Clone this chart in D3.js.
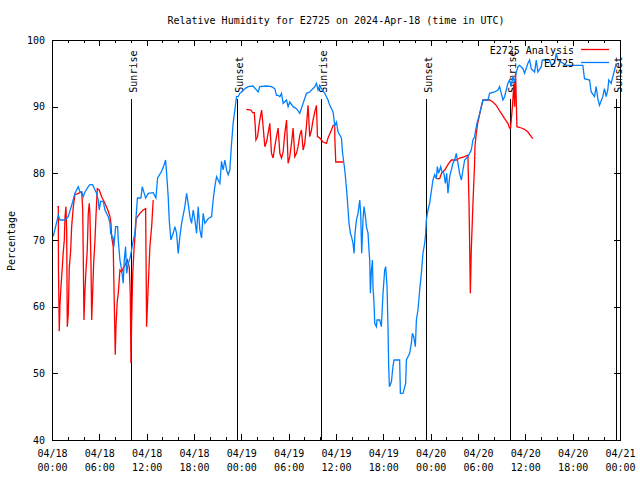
<!DOCTYPE html>
<html><head><meta charset="utf-8">
<script src="https://cdn.jsdelivr.net/npm/d3@7"></script>
<style>
body{margin:0;background:#fff}
svg text{font-family:"DejaVu Sans Mono",monospace;font-size:10px;fill:#000}
</style>
</head><body>
<svg id="chart" width="640" height="480"></svg>
<script>
// ---------- DATA ----------
const chartTitle = "Relative Humidity for E2725 on 2024-Apr-18 (time in UTC)";
const yAxisTitle = "Percentage";
const seriesNames = ["E2725 Analysis", "E2725"];
const seriesColors = ["#ff0000", "#0080ff"];
const yTicks = [40, 50, 60, 70, 80, 90, 100];
const xMajorHours = [0, 6, 12, 18, 24, 30, 36, 42, 48, 54, 60, 66, 72];
const xMinorHours = d3.range(0, 73, 2);
const sunHours = [10.05, 23.47, 34.07, 47.45, 58.09, 71.51];
const sunLabels = ["Sunrise", "Sunset", "Sunrise", "Sunset", "Sunrise", "Sunset"];

// [hours since 2024-04-18 00:00 UTC, RH %]; null value = gap
const analysisRH = [
[0.67,75.0],[0.80,75.0],[0.82,65.8],[0.92,56.3],[1.01,60.3],[1.14,63.0],[1.30,65.8],[1.43,68.3],[1.56,70.0],[1.65,73.5],
[1.77,75.0],[1.86,71.5],[1.94,57.0],[2.06,58.8],[2.19,65.8],[2.37,68.5],[2.49,72.0],[2.70,75.0],[2.91,76.8],[3.33,77.0],
[3.76,77.2],[3.89,74.7],[3.96,68.0],[4.05,58.0],[4.18,62.5],[4.31,65.5],[4.47,68.5],[4.60,74.0],[4.72,75.5],[4.81,73.8],
[4.94,66.5],[5.03,58.0],[5.15,62.0],[5.28,66.5],[5.45,70.0],[5.57,73.5],[5.74,77.7],[5.99,77.5],[6.29,76.5],[6.71,75.5],
[7.13,74.3],[7.35,73.5],[7.47,72.5],[7.56,70.5],[7.76,69.0],[7.89,60.8],[8.02,52.8],[8.11,57.0],[8.27,60.8],[8.40,62.0],
[8.61,65.5],[8.83,65.2],[9.03,65.8],[9.25,66.2],[9.54,67.0],[9.79,66.0],[9.92,62.0],[10.01,51.5],[10.09,57.5],[10.22,64.5],
[10.39,68.5],[10.58,71.5],[10.67,73.2],[11.14,74.0],[11.56,74.5],[11.87,74.7],[11.99,57.0],[12.16,62.0],[12.41,69.0],[12.63,72.0],
[12.83,76.0],[12.9,null],
[24.64,89.6],[25.21,89.5],[25.42,89.1],[25.64,89.1],[25.77,87.0],[25.85,85.0],[26.06,85.5],[26.27,87.5],[26.57,89.5],[26.69,88.0],
[26.98,84.0],[27.19,84.7],[27.39,86.0],[27.61,87.5],[27.82,83.0],[28.03,82.3],[28.24,84.0],[28.46,85.5],[28.66,86.8],[28.88,83.0],
[29.09,82.3],[29.30,83.2],[29.51,86.0],[29.73,88.0],[29.93,81.5],[30.14,82.5],[30.36,84.5],[30.56,86.8],[30.78,82.5],[30.99,83.0],
[31.19,84.0],[31.41,85.7],[31.62,86.5],[31.83,83.5],[32.04,84.5],[32.26,87.2],[32.46,90.2],[32.67,85.5],[32.89,86.5],[33.09,88.0],
[33.31,89.2],[33.52,90.2],[33.65,85.5],[33.94,85.3],[34.36,84.7],[34.79,84.5],[34.99,85.3],[35.42,86.5],[35.63,87.2],[35.84,87.2],
[35.85,85.3],[35.97,81.7],[36.89,81.7],[37.0,null],
[48.72,79.2],[49.14,79.2],[49.37,80.0],[49.78,80.5],[50.19,81.3],[50.62,82.0],[51.25,82.0],[51.67,82.3],[52.31,82.5],[52.72,82.7],
[52.87,75.0],[53.03,62.0],[53.15,68.5],[53.36,75.5],[53.57,81.5],[53.61,84.0],[53.78,86.0],[53.99,87.7],[54.20,88.8],[54.42,90.0],
[54.63,91.0],[55.47,91.0],[55.89,90.7],[56.31,90.2],[56.52,89.8],[56.95,89.0],[57.37,88.2],[57.79,87.5],[58.00,86.8],[58.13,86.8],
[58.29,89.0],[58.42,91.0],[58.55,93.5],[58.64,90.0],[58.76,95.0],[58.86,90.5],[58.93,87.0],[59.49,86.8],[59.90,86.6],[60.33,86.2],
[60.75,85.5],[60.96,85.2]
];

const stationRH = [
[0.13,70.5],[0.25,71.0],[0.80,73.7],[1.01,73.0],[1.65,73.0],[2.06,73.5],[2.49,75.2],[2.91,77.0],[3.33,78.0],[3.55,77.2],
[3.76,77.2],[3.96,76.5],[4.18,77.2],[4.60,78.0],[4.81,78.3],[5.15,78.3],[5.45,77.5],[5.66,77.0],[5.86,76.0],[5.99,74.5],
[6.17,75.8],[6.50,75.8],[6.71,74.5],[7.13,73.5],[7.35,72.5],[7.43,71.0],[7.76,70.3],[7.85,69.0],[8.07,72.0],[8.32,72.0],
[8.40,70.0],[8.61,67.0],[8.83,65.5],[9.03,63.5],[9.16,67.0],[9.33,69.0],[9.46,65.0],[9.66,66.5],[9.88,67.2],[10.09,68.5],
[10.22,69.5],[10.51,71.0],[10.83,76.3],[11.27,76.3],[11.44,78.0],[11.69,77.0],[11.87,76.3],[12.20,77.0],[12.83,77.1],[13.17,76.3],
[13.39,79.3],[13.89,80.3],[14.22,81.3],[14.40,82.0],[14.53,80.0],[14.73,76.5],[14.86,73.0],[15.07,70.0],[15.36,71.0],[15.58,72.0],
[15.79,71.0],[16.00,68.0],[16.21,70.5],[16.43,72.5],[16.84,75.0],[17.06,77.0],[17.26,75.5],[17.48,73.5],[17.69,72.5],[17.90,74.5],
[18.11,73.0],[18.33,71.0],[18.53,75.0],[18.74,71.5],[18.96,70.3],[19.16,74.0],[19.38,72.5],[19.79,73.2],[20.23,73.5],[20.43,76.0],
[20.64,78.0],[20.86,79.5],[21.06,79.0],[21.28,78.5],[21.49,81.8],[21.69,80.5],[21.91,82.0],[22.13,80.5],[22.33,79.8],[22.54,80.5],
[22.76,84.5],[22.96,87.5],[23.18,89.5],[23.39,91.5],[23.60,91.5],[23.81,92.0],[24.02,92.2],[24.44,92.7],[24.86,93.0],[25.49,93.1],
[26.13,92.2],[26.34,93.0],[27.19,93.1],[27.82,93.0],[28.24,92.7],[28.46,91.7],[28.66,91.7],[28.88,91.5],[29.09,92.0],[29.30,90.5],
[29.73,91.0],[29.93,90.0],[30.14,90.7],[30.56,90.0],[30.99,89.7],[31.41,89.0],[31.83,90.5],[32.26,92.0],[32.67,92.2],[33.31,93.0],
[33.52,93.5],[33.73,92.5],[33.94,93.2],[34.16,92.7],[34.57,92.0],[34.99,91.0],[35.21,90.2],[35.63,89.2],[35.84,87.2],[36.06,87.7],
[36.26,86.2],[36.69,85.3],[36.82,83.2],[36.98,81.7],[37.11,80.5],[37.23,79.0],[37.40,76.7],[37.53,74.5],[37.65,72.5],[37.83,71.0],
[37.96,70.5],[38.16,69.5],[38.29,68.0],[38.41,71.0],[38.59,73.0],[38.79,74.0],[39.01,76.0],[39.13,74.0],[39.26,68.0],[39.42,73.0],
[39.55,75.0],[39.73,73.5],[39.86,72.0],[40.06,71.0],[40.18,68.5],[40.27,67.0],[40.36,62.0],[40.49,65.5],[40.62,67.0],[40.69,63.0],
[40.82,60.5],[40.91,57.5],[41.12,57.0],[41.20,58.0],[41.54,58.0],[41.75,57.0],[41.96,62.0],[42.17,65.5],[42.30,66.0],[42.47,63.0],
[42.59,57.0],[42.68,51.0],[42.77,48.0],[43.02,48.7],[43.22,51.0],[43.35,52.0],[44.07,52.0],[44.16,47.0],[44.49,47.0],[44.83,48.5],
[44.92,52.0],[45.12,52.5],[45.34,53.0],[45.55,54.5],[45.68,56.0],[45.85,55.5],[46.06,54.0],[46.19,58.0],[46.39,59.5],[46.61,62.5],
[46.82,65.0],[47.02,68.0],[47.24,69.5],[47.37,71.0],[47.45,73.0],[47.66,74.5],[47.87,75.5],[48.29,79.0],[48.51,79.8],[48.72,79.2],
[48.85,81.0],[49.01,80.0],[49.27,81.0],[49.43,80.2],[49.68,80.0],[49.86,78.5],[50.03,80.0],[50.19,77.0],[50.41,79.5],[50.82,81.5],
[51.04,82.0],[51.25,83.0],[51.46,81.5],[51.67,80.0],[51.89,79.0],[52.09,80.5],[52.31,82.0],[52.72,82.5],[53.15,83.5],[53.36,85.0],
[53.57,85.5],[53.70,86.5],[53.91,87.7],[54.12,88.5],[54.42,90.0],[54.63,91.0],[55.26,91.0],[55.47,92.0],[56.10,92.2],[56.52,92.5],
[56.74,93.0],[56.95,92.0],[57.16,91.0],[57.37,91.5],[57.79,93.5],[58.00,94.0],[58.22,93.0],[58.42,94.5],[58.64,93.7],[58.86,95.2],
[59.07,96.0],[59.27,96.2],[59.70,95.7],[59.90,95.0],[60.33,96.5],[60.54,97.0],[60.75,95.7],[61.17,95.2],[61.39,97.0],[61.59,95.2],
[62.02,96.0],[62.15,97.0],[63.07,97.0],[63.29,96.2],[63.71,96.5],[63.92,98.0],[64.12,97.0],[64.55,96.7],[65.18,96.2],[67.29,96.2],
[67.50,94.2],[68.14,94.0],[68.35,92.2],[68.77,91.5],[68.98,93.0],[69.19,91.2],[69.40,90.2],[69.82,91.5],[70.03,92.7],[70.25,91.5],
[70.45,92.5],[70.58,94.0],[70.88,93.5],[71.09,94.5],[71.31,95.5],[71.52,96.5]
];

// ---------- DRAW ----------
const L = 52, R = 620, T = 40, B = 440;
const t0 = Date.UTC(2024, 3, 18);
const toDate = h => new Date(t0 + h * 3600e3);
const x = d3.scaleUtc().domain([toDate(0), toDate(72)]).range([L, R]);
const y = d3.scaleLinear().domain([40, 100]).range([B, T]);
const svg = d3.select("#chart");

// title
svg.append("text").attr("x", (L + R) / 2).attr("y", 24)
  .attr("text-anchor", "middle").text(chartTitle);
// y axis title
svg.append("text").attr("transform", "translate(15,241) rotate(-90)")
  .attr("text-anchor", "middle").text(yAxisTitle);

const crisp = g => g.attr("shape-rendering", "crispEdges").call(s => s.select(".domain").remove());

// left axis
svg.append("g").attr("transform", `translate(${L},0)`)
  .call(d3.axisLeft(y).tickValues(yTicks).tickSize(-6).tickPadding(7).tickFormat(d3.format("d")))
  .call(crisp);
// right mirror
svg.append("g").attr("transform", `translate(${R},0)`)
  .call(d3.axisRight(y).tickValues(yTicks).tickSize(-6).tickFormat(""))
  .call(crisp);
// bottom minor + major
svg.append("g").attr("transform", `translate(0,${B})`)
  .call(d3.axisBottom(x).tickValues(xMinorHours.map(toDate)).tickSize(-3).tickFormat(""))
  .call(crisp);
const fmtD = d3.utcFormat("%m/%d"), fmtT = d3.utcFormat("%H:%M");
svg.append("g").attr("transform", `translate(0,${B})`)
  .call(d3.axisBottom(x).tickValues(xMajorHours.map(toDate)).tickSize(-6).tickFormat(fmtD))
  .call(crisp)
  .call(g => g.selectAll(".tick text").each(function(d) {
    const t = d3.select(this).text(null).attr("y", null).attr("dy", null);
    t.append("tspan").attr("x", 0).attr("y", 17).text(fmtD(d));
    t.append("tspan").attr("x", 0).attr("y", 31).text(fmtT(d));
  }));
// top mirror
svg.append("g").attr("transform", `translate(0,${T})`)
  .call(d3.axisTop(x).tickValues(xMinorHours.map(toDate)).tickSize(-3).tickFormat(""))
  .call(crisp);
svg.append("g").attr("transform", `translate(0,${T})`)
  .call(d3.axisTop(x).tickValues(xMajorHours.map(toDate)).tickSize(-6).tickFormat(""))
  .call(crisp);

// sunrise / sunset markers
const sunTop = y(91.2);
const sun = svg.append("g");
sunHours.forEach((h, i) => {
  const sx = Math.round(x(toDate(h))) + 0.5;
  sun.append("line").attr("x1", sx).attr("x2", sx).attr("y1", sunTop).attr("y2", B)
    .attr("stroke", "#000").attr("stroke-width", 1).attr("shape-rendering", "crispEdges");
  sun.append("text").attr("transform", `translate(${sx + 5},${sunTop - 6}) rotate(-90)`)
    .text(sunLabels[i]);
});

// series
const line = d3.line()
  .defined(d => d[1] != null)
  .x(d => x(toDate(d[0])))
  .y(d => y(d[1]));
svg.append("path").datum(analysisRH).attr("fill", "none")
  .attr("stroke", seriesColors[0]).attr("stroke-width", 1.3).attr("d", line);
svg.append("path").datum(stationRH).attr("fill", "none")
  .attr("stroke", seriesColors[1]).attr("stroke-width", 1.3).attr("d", line);

// border
svg.append("rect").attr("x", L + 0.5).attr("y", T + 0.5).attr("width", R - L).attr("height", B - T)
  .attr("fill", "none").attr("stroke", "#000").attr("shape-rendering", "crispEdges");

// legend
const legY = [50, 63];
seriesNames.forEach((n, i) => {
  svg.append("text").attr("x", 574).attr("y", legY[i] + 3.5).attr("text-anchor", "end").text(n);
  svg.append("line").attr("x1", 581).attr("x2", 609).attr("y1", legY[i] - 0.5).attr("y2", legY[i] - 0.5)
    .attr("stroke", seriesColors[i]).attr("stroke-width", 1.3);
});
</script>
</body></html>
